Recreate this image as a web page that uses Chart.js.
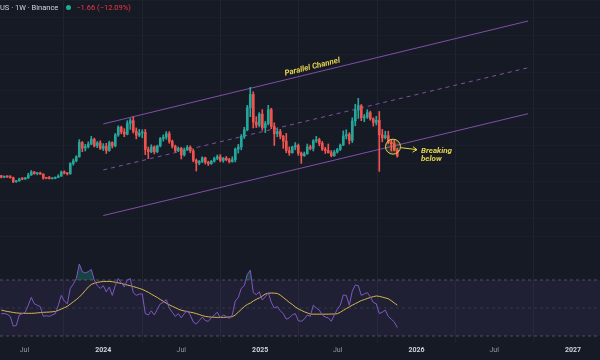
<!DOCTYPE html>
<html>
<head>
<meta charset="utf-8">
<script src="https://cdn.jsdelivr.net/npm/chart.js@4.4.1/dist/chart.umd.min.js"></script>
<style>
html,body{margin:0;padding:0;background:#161a25;}
#wrap{position:relative;width:600px;height:360px;overflow:hidden;background:#161a25;}
#c{display:block;}
#hdr{position:absolute;left:0;top:3px;font:7.5px Roboto,'Liberation Sans',sans-serif;color:#d1d4dc;white-space:nowrap;line-height:10px;}
#hdr .dot{display:inline-block;width:5px;height:5px;border-radius:50%;background:#22ab94;margin:0 5px 0 8px;vertical-align:0px;}
#hdr .chg{color:#f23645;}
</style>
</head>
<body>
<div id="wrap">
<canvas id="c" width="600" height="360"></canvas>
<div id="hdr">US · 1W · Binance<span class="dot"></span><span class="chg">−1.66 (−12.09%)</span></div>
</div>
<script>
// ---------- DATA ----------
const weeks = [
'2023-05-08','2023-05-15','2023-05-22','2023-05-29','2023-06-05','2023-06-12','2023-06-19','2023-06-26',
'2023-07-03','2023-07-10','2023-07-17','2023-07-24','2023-07-31','2023-08-07','2023-08-14','2023-08-21',
'2023-08-28','2023-09-04','2023-09-11','2023-09-18','2023-09-25','2023-10-02','2023-10-09','2023-10-16',
'2023-10-23','2023-10-30','2023-11-06','2023-11-13','2023-11-20','2023-11-27','2023-12-04','2023-12-11',
'2023-12-18','2023-12-25',
'2024-01-01','2024-01-08','2024-01-15','2024-01-22','2024-01-29','2024-02-05','2024-02-12','2024-02-19',
'2024-02-26','2024-03-04','2024-03-11','2024-03-18','2024-03-25','2024-04-01','2024-04-08','2024-04-15',
'2024-04-22','2024-04-29','2024-05-06','2024-05-13','2024-05-20','2024-05-27','2024-06-03','2024-06-10',
'2024-06-17','2024-06-24','2024-07-01','2024-07-08','2024-07-15','2024-07-22','2024-07-29','2024-08-05',
'2024-08-12','2024-08-19','2024-08-26','2024-09-02','2024-09-09','2024-09-16','2024-09-23','2024-09-30',
'2024-10-07','2024-10-14','2024-10-21','2024-10-28','2024-11-04','2024-11-11','2024-11-18','2024-11-25',
'2024-12-02','2024-12-09','2024-12-16','2024-12-23','2024-12-30',
'2025-01-06','2025-01-13','2025-01-20','2025-01-27','2025-02-03','2025-02-10','2025-02-17','2025-02-24',
'2025-03-03','2025-03-10','2025-03-17','2025-03-24','2025-03-31','2025-04-07','2025-04-14','2025-04-21',
'2025-04-28','2025-05-05','2025-05-12','2025-05-19','2025-05-26','2025-06-02','2025-06-09','2025-06-16',
'2025-06-23','2025-06-30','2025-07-07','2025-07-14','2025-07-21','2025-07-28','2025-08-04','2025-08-11',
'2025-08-18','2025-08-25','2025-09-01','2025-09-08','2025-09-15','2025-09-22','2025-09-29','2025-10-06',
'2025-10-13','2025-10-20','2025-10-27','2025-11-03','2025-11-10','2025-11-17'
];
const opens = [
6.75,6.30,6.50,6.40,6.15,5.05,5.30,5.85,5.80,6.10,6.90,7.75,7.30,7.45,7.15,6.05,6.00,5.90,6.00,6.25,6.60,7.75,7.40,7.25,
10.05,10.80,11.90,15.80,14.30,14.70,15.40,16.70,14.90,15.70,
14.20,14.80,13.60,15.80,14.90,17.90,20.00,18.70,18.10,21.10,21.80,18.90,17.80,18.40,18.60,13.90,13.30,14.60,13.30,14.90,
16.90,17.30,18.20,16.10,14.80,13.60,14.20,12.40,13.80,14.50,13.50,10.90,10.20,10.60,11.60,10.40,10.00,10.70,11.40,11.90,
10.90,11.50,11.10,10.60,11.10,14.00,14.60,17.50,19.30,25.40,29.00,21.40,20.60,
23.60,19.90,21.00,24.80,20.20,18.20,18.80,17.50,16.20,13.60,13.00,14.60,15.00,12.90,12.20,12.70,14.60,14.20,16.30,16.60,
15.60,14.00,13.60,13.00,12.20,13.20,13.90,15.10,17.60,18.00,16.40,21.70,24.70,25.90,22.60,22.80,24.00,22.30,21.30,21.90,
17.90,17.10,17.70,15.90,15.50,13.73
];
const highs = [
6.80,6.65,6.70,6.75,6.35,5.45,6.05,6.20,6.25,7.40,8.15,7.85,7.55,7.70,7.25,6.30,6.55,6.10,6.40,7.00,8.00,8.05,7.55,10.30,
11.30,12.20,16.60,16.10,15.30,16.00,17.50,17.00,16.10,16.30,
15.50,15.60,16.20,16.00,18.30,20.40,20.30,19.60,21.80,22.40,22.88,19.80,19.40,19.30,19.40,14.60,15.20,14.90,15.10,17.20,
17.90,18.80,18.80,16.50,15.10,14.60,14.50,14.30,15.00,14.90,14.00,11.30,10.90,11.90,11.80,10.70,10.90,11.80,12.40,12.50,
11.70,12.00,11.50,11.90,14.30,15.30,18.00,20.00,26.00,30.94,29.70,22.90,24.00,
24.80,21.60,26.00,25.20,21.20,19.60,19.40,17.80,18.30,14.60,14.80,15.80,15.40,13.20,13.20,15.40,15.10,16.60,17.50,17.00,
16.10,14.50,15.40,13.60,13.70,14.20,15.40,19.00,19.30,18.50,22.60,26.30,27.90,26.20,23.50,24.80,24.40,22.60,23.00,24.30,
19.40,18.90,18.90,16.50,16.40,14.20
];
const lows = [
6.10,6.15,6.20,6.05,4.80,4.90,5.20,5.60,5.70,5.95,6.80,7.10,6.95,7.05,5.75,5.85,5.80,5.80,5.85,6.15,6.55,7.20,6.90,7.10,
9.60,10.50,11.80,13.30,13.50,14.30,15.20,14.60,14.40,13.90,
13.60,12.80,13.40,14.30,14.60,17.50,18.20,17.40,17.90,19.40,18.40,16.80,17.40,17.10,12.50,11.40,13.00,12.70,13.00,14.60,
16.20,16.70,15.60,14.30,13.20,13.30,11.30,12.10,13.60,13.00,10.50,8.00,9.70,10.30,9.90,9.50,9.80,10.40,11.10,10.50,
10.40,10.80,10.20,10.40,10.50,12.90,13.80,16.90,19.00,22.90,19.80,19.90,20.10,
19.20,18.50,20.60,19.60,15.00,17.40,16.80,14.20,13.00,12.30,12.90,13.80,12.30,10.10,12.00,12.60,13.80,13.50,15.80,14.90,
13.60,12.80,12.90,11.90,12.00,12.90,13.60,15.00,16.80,15.40,15.80,20.40,22.40,21.80,21.50,22.40,21.90,20.30,20.60,7.90,
16.00,16.80,15.50,13.50,13.50,11.80
];
const closes = [
6.30,6.50,6.40,6.15,5.05,5.30,5.85,5.80,6.10,6.90,7.75,7.30,7.45,7.15,6.05,6.00,5.90,6.00,6.25,6.60,7.75,7.40,7.25,10.05,
10.80,11.90,15.80,14.30,14.70,15.40,16.70,14.90,15.70,14.20,
14.80,13.60,15.80,14.90,17.90,20.00,18.70,18.10,21.10,21.80,18.90,17.80,18.40,18.60,13.90,13.30,14.60,13.30,14.90,16.90,
17.30,18.20,16.10,14.80,13.60,14.20,12.40,13.80,14.50,13.50,10.90,10.20,10.60,11.60,10.40,10.00,10.70,11.40,11.90,10.90,
11.50,11.10,10.60,11.10,14.00,14.60,17.50,19.30,25.40,29.00,21.40,20.60,23.60,
19.90,21.00,24.80,20.20,18.20,18.80,17.50,16.20,13.60,13.00,14.60,15.00,12.90,12.20,12.70,14.60,14.20,16.30,16.60,15.60,
14.00,13.60,13.00,12.20,13.20,13.90,15.10,17.60,18.00,16.40,21.70,24.70,25.90,22.60,22.80,24.00,22.30,21.30,21.90,17.90,
17.10,17.70,15.90,15.50,13.73,12.07
];
const rsiValues = [
46,46,45.5,44,37,37.5,45,46,47,52,57.6,53,52,51,44,44.5,44,45,46,52,59,55,53,64,67,71,81.4,76,75,76,77.5,70,66,64,
66,61.5,65,59,66,71,68,65,70,71,61,59,60,60,46,45,48,45,49,53,54,56,50,47,44,46,43,46,48,45,40,38.5,41,43.5,41,40.5,
43,45,47,43,45,44,42.5,45,55,57.5,64,66,74,77,61,59.5,61.5,
55.7,58,61,54,50,51,48,46,42,43,45,46,41,40.5,42,45,44,52,50,48.5,45,43.5,43,40.5,45,49,52,59.3,59,52,62,66.4,66,59,
60,61,58,54,53,46,47,48.5,44,42,40,36
];
const rsiMA = [
48.5,48.0,47.5,47.2,46.8,46.5,46.3,46.2,46.2,46.2,46.2,46.3,46.5,46.7,46.9,47.0,47.1,47.3,47.5,48.3,49.2,50.2,51.2,52.8,
54.4,56.0,57.8,60.0,62.5,65.0,66.8,67.7,68.3,68.7,
68.9,69.0,69.0,68.8,68.4,68.0,67.5,67.0,66.4,65.9,65.3,64.7,64.0,63.3,62.3,61.2,59.9,58.7,57.5,56.1,54.8,53.4,52.3,51.2,
50.3,49.2,48.4,47.9,47.4,47.0,46.6,46.0,45.3,44.6,44.0,43.7,43.5,43.4,43.3,43.3,43.3,43.4,43.6,43.8,45.0,47.0,49.0,51.0,
52.5,53.5,55.0,56.2,57.2,
58.5,60.0,60.5,60.7,60.6,60.4,59.2,57.5,55.8,54.0,52.5,50.8,49.4,48.3,47.3,46.5,45.7,45.6,45.6,45.6,45.6,45.6,45.6,45.7,
45.7,45.9,47.0,48.3,49.6,50.8,52.0,53.1,54.2,55.3,56.0,56.8,57.5,58.1,58.6,58.3,57.8,57.2,56.6,55.2,53.6,52.0
];
const rsiLevels = [70, 50, 30];
const channelDates = ['2024-01-01', '2026-09-18'];
const channelUpper = [20.9, 49.1];
const channelMiddle = [8.3, 36.3];
const channelLower = [-4.2, 23.7];
const tickDates = ['2023-07-01','2024-01-01','2024-07-01','2025-01-01','2025-07-01','2026-01-01','2026-07-01','2027-01-01'];
const tickLabels = ['Jul','2024','Jul','2025','Jul','2026','Jul','2027'];
const viewStart = '2023-05-05', viewEnd = '2027-03-05';
const channelLabel = {text: 'Parallel Channel', date: '2025-05-06'};
const breakNote = {lines: ['Breaking', 'below'], date: '2025-11-07', price: 14.67};

// ---------- STYLE ----------
const BG = '#161a25', UP = '#26a69a', DOWN = '#ef5350';
const CH = '#7f4fa8', NOTE = '#e6d34e';
const t = d => Date.parse(d);
const candleColors = closes.map((c, i) => c >= opens[i] ? UP : DOWN);

const bgPlugin = {
  id: 'bg',
  beforeDraw(chart) {
    const {ctx, width, height} = chart;
    ctx.save(); ctx.fillStyle = BG; ctx.fillRect(0, 0, width, height); ctx.restore();
  }
};

const notesPlugin = {
  id: 'notes',
  afterDatasetsDraw(chart) {
    const {ctx, scales: {x, y}} = chart;
    ctx.save();
    const x1 = x.getPixelForValue(t(channelDates[0])), y1 = y.getPixelForValue(channelUpper[0]);
    const x2 = x.getPixelForValue(t(channelDates[1])), y2 = y.getPixelForValue(channelUpper[1]);
    const ang = Math.atan2(y2 - y1, x2 - x1);
    const lx = x.getPixelForValue(t(channelLabel.date));
    const ly = y1 + (y2 - y1) * (lx - x1) / (x2 - x1);
    ctx.translate(lx, ly);
    ctx.rotate(ang);
    ctx.fillStyle = NOTE;
    ctx.font = 'italic bold 8px Roboto, "Liberation Sans", sans-serif';
    ctx.textAlign = 'center';
    ctx.textBaseline = 'alphabetic';
    ctx.fillText(channelLabel.text, 0, -4);
    ctx.restore();

    ctx.save();
    const cx = x.getPixelForValue(t(breakNote.date)), cy = y.getPixelForValue(breakNote.price);
    ctx.strokeStyle = NOTE; ctx.lineWidth = 1;
    ctx.fillStyle = 'rgba(230,211,78,0.12)';
    ctx.beginPath(); ctx.arc(cx, cy, 7.5, 0, Math.PI * 2); ctx.fill(); ctx.stroke();
    const ax0 = cx + 8, ay0 = cy + 1, ax1 = cx + 24, ay1 = cy + 3;
    ctx.beginPath(); ctx.moveTo(ax0, ay0); ctx.lineTo(ax1, ay1); ctx.stroke();
    ctx.beginPath(); ctx.moveTo(ax1 - 4, ay1 - 3); ctx.lineTo(ax1, ay1); ctx.lineTo(ax1 - 4.5, ay1 + 2.5); ctx.stroke();
    ctx.fillStyle = NOTE;
    ctx.font = 'italic bold 8px Roboto, "Liberation Sans", sans-serif';
    ctx.textAlign = 'left'; ctx.textBaseline = 'middle';
    ctx.fillText(breakNote.lines[0], cx + 28, cy + 4);
    ctx.fillText(breakNote.lines[1], cx + 28, cy + 12);
    ctx.restore();
  }
};

const lineDs = (xs, ys, axis, extra) => Object.assign({
  type: 'line',
  data: xs.map((d, i) => ({x: t(d), y: ys[i]})),
  yAxisID: axis, pointRadius: 0, borderWidth: 1, tension: 0, fill: false
}, extra);

const datasets = [
  lineDs([viewStart, viewEnd], [rsiLevels[0], rsiLevels[0]], 'yRsi',
    {borderColor: 'rgba(120,123,134,0.55)', borderDash: [3, 3], fill: {value: rsiLevels[2]},
     backgroundColor: 'rgba(126,87,194,0.10)', order: 20}),
  lineDs([viewStart, viewEnd], [rsiLevels[1], rsiLevels[1]], 'yRsi',
    {borderColor: 'rgba(120,123,134,0.25)', borderDash: [3, 3], order: 19}),
  lineDs([viewStart, viewEnd], [rsiLevels[2], rsiLevels[2]], 'yRsi',
    {borderColor: 'rgba(120,123,134,0.55)', borderDash: [3, 3], order: 18}),
  lineDs(channelDates, channelUpper, 'y', {borderColor: CH, order: 10}),
  lineDs(channelDates, channelMiddle, 'y', {borderColor: CH, borderDash: [4, 4], order: 10}),
  lineDs(channelDates, channelLower, 'y', {borderColor: CH, order: 10}),
  {type: 'bar', data: weeks.map((d, i) => ({x: t(d), y: [lows[i], highs[i]]})), yAxisID: 'y',
   backgroundColor: candleColors, barThickness: 1, grouped: false, order: 6},
  {type: 'bar', data: weeks.map((d, i) => ({x: t(d), y: [opens[i], closes[i]]})), yAxisID: 'y',
   backgroundColor: candleColors, barThickness: 2, minBarLength: 1, grouped: false, order: 5},
  lineDs(weeks, rsiMA, 'yRsi', {borderColor: '#d8b64c', order: 2}),
  lineDs(weeks, rsiValues, 'yRsi', {borderColor: '#7e57c2',
    fill: {target: {value: rsiLevels[0]}, above: 'rgba(34,171,148,0.28)', below: 'rgba(0,0,0,0)'}, order: 1})
];

new Chart(document.getElementById('c'), {
  type: 'bar',
  data: {datasets},
  options: {
    responsive: false, animation: false, devicePixelRatio: 1,
    layout: {padding: 0},
    plugins: {legend: {display: false}, tooltip: {enabled: false}},
    scales: {
      x: {
        type: 'linear', min: t(viewStart), max: t(viewEnd), offset: false,
        border: {display: false},
        grid: {color: '#20242f', drawTicks: false},
        afterBuildTicks: s => { s.ticks = tickDates.map(d => ({value: t(d)})); },
        afterFit: s => { s.height = 18; },
        ticks: {
          autoSkip: false, maxRotation: 0, padding: 4,
          callback: (v, i) => tickLabels[i],
          color: c => /^\d/.test(tickLabels[c.index]) ? '#d1d4dc' : '#9598a1',
          font: c => ({family: 'Roboto', size: 7, weight: /^\d/.test(tickLabels[c.index]) ? 'bold' : 'normal'})
        }
      },
      y: {
        type: 'linear', position: 'left', min: -38.85, max: 54.86,
        border: {display: false},
        grid: {color: c => (c.tick && c.tick.value >= -10) ? '#1b1f2a' : 'rgba(0,0,0,0)', drawTicks: false},
        ticks: {display: false, stepSize: 5},
        afterFit: s => { s.width = 0; }
      },
      yRsi: {
        axis: 'y', type: 'linear', position: 'right', display: false, min: 25.714, max: 270
      }
    }
  },
  plugins: [bgPlugin, notesPlugin]
});
</script>
</body>
</html>
